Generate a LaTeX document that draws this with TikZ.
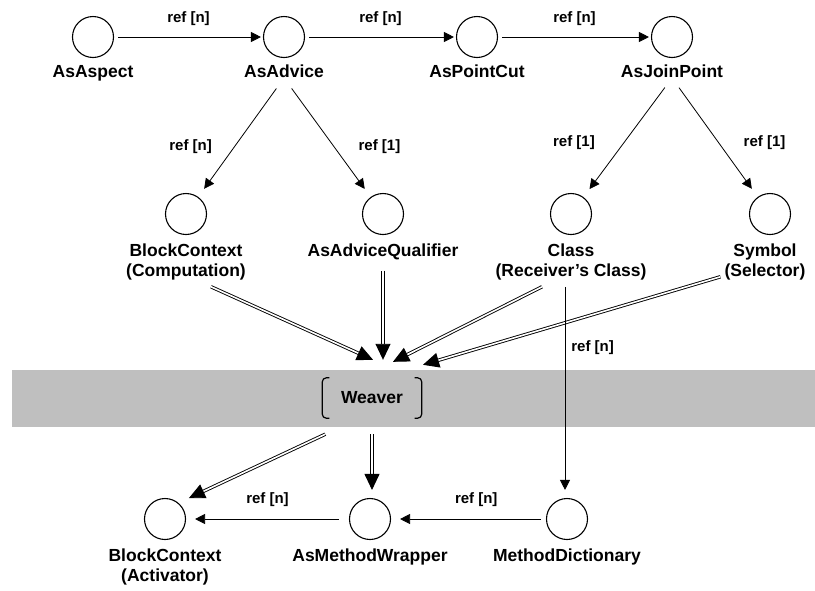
\documentclass[tikz,border=0pt]{standalone}
\usepackage{fontspec}
\setmainfont{Liberation Sans}
\usetikzlibrary{positioning, arrows.meta}

\begin{document}
\begin{tikzpicture}[
  x=1pt, y=-1pt,
  every node/.style={align=center, font=\fontsize{17.5}{20}\selectfont\bfseries},
  obj/.style={draw, circle, line width=1.1pt, minimum size=41pt, inner sep=0pt},
  objname/.style={inner sep=0pt},
  reflabel/.style={inner sep=0pt, font=\fontsize{15}{17}\selectfont\bfseries},
  refarrow/.style={-{Triangle[length=10pt,width=10pt]}, line width=0.8pt},
  weavearrow/.style={-{Triangle[length=16pt,width=15pt]}, double, double distance=1.6pt, line width=0.9pt},
  brackline/.style={line width=1.2pt, rounded corners=4pt}
]
\useasboundingbox (0,0) rectangle (815,590);

\node[fill=black!25, minimum width=803pt, minimum height=57pt, inner sep=0pt] (band) at (413.5,398.5) {};
\node[minimum width=99pt, minimum height=40pt, inner sep=0pt] (wv) at (372,398) {Weaver};
\draw[brackline] ([xshift=7pt]wv.north west) -- (wv.north west) -- (wv.south west) -- ([xshift=7pt]wv.south west);
\draw[brackline] ([xshift=-7pt]wv.north east) -- (wv.north east) -- (wv.south east) -- ([xshift=-7pt]wv.south east);

\node[obj] (asp) at (93,37) {};
\node[obj] (adv) at (284,37) {};
\node[obj] (pc) at (477,37) {};
\node[obj] (jp) at (672,37) {};
\node[obj] (bcc) at (186,214) {};
\node[obj] (aq) at (383,214) {};
\node[obj] (cls) at (571,214) {};
\node[obj] (sym) at (770,214) {};
\node[obj] (bca) at (165,519) {};
\node[obj] (mw) at (370,519) {};
\node[obj] (md) at (567,519) {};

\node[objname, below=7pt of asp] (aspL) {AsAspect};
\node[objname, below=7pt of adv] (advL) {AsAdvice};
\node[objname, below=7pt of pc] (pcL) {AsPointCut};
\node[objname, below=7pt of jp] (jpL) {AsJoinPoint};
\node[objname, below=9pt of bcc] (bccL) {BlockContext\\(Computation)};
\node[objname, below=9pt of aq] (aqL) {AsAdviceQualifier};
\node[objname, below=9pt of cls] (clsL) {Class\\(Receiver’s Class)};
\node[objname, below=9pt of sym, xshift=-5pt] (symL) {Symbol\\(Selector)};
\node[objname, below=9pt of bca] (bcaL) {BlockContext\\(Activator)};
\node[objname, below=9pt of mw] (mwL) {AsMethodWrapper};
\node[objname, below=9pt of md] (mdL) {MethodDictionary};

\draw[refarrow, shorten <=4pt, shorten >=2pt] (asp) -- node[reflabel, above=11pt] {ref [n]} (adv);
\draw[refarrow, shorten <=4pt, shorten >=2pt] (adv) -- node[reflabel, above=11pt] {ref [n]} (pc);
\draw[refarrow, shorten <=4pt, shorten >=2pt] (pc) -- node[reflabel, above=11pt] {ref [n]} (jp);

\draw[refarrow, shorten <=13pt, shorten >=10pt] (advL.base) -- node[reflabel, pos=0.58, left=22pt] {ref [n]} (bcc);
\draw[refarrow, shorten <=13pt, shorten >=10pt] (advL.base) -- node[reflabel, pos=0.58, right=24pt] {ref [1]} (aq);
\draw[refarrow, shorten <=12pt, shorten >=10pt] (jpL.base) -- node[reflabel, pos=0.54, left=29pt] {ref [1]} (cls);
\draw[refarrow, shorten <=12pt, shorten >=10pt] (jpL.base) -- node[reflabel, pos=0.54, right=25pt] {ref [1]} (sym);

\coordinate (wvtop) at ([yshift=18pt]wv.north);
\draw[weavearrow] ([xshift=25pt,yshift=-6pt]bccL.south) -- ([xshift=1pt,yshift=18pt]wv.north);
\draw[weavearrow] ([yshift=-10pt]aqL.south) -- (aqL.south |- wvtop);
\draw[weavearrow] ([xshift=-29pt,yshift=-6pt]clsL.south) -- ([xshift=21pt,yshift=16pt]wv.north);
\draw[weavearrow] ([xshift=-4pt,yshift=4pt]symL.south west) -- ([xshift=51pt,yshift=13pt]wv.north);

\coordinate (wvout) at ([yshift=-16pt]wv.south);
\draw[weavearrow] ([xshift=3pt,yshift=-16pt]wv.south west) -- ([xshift=9pt,yshift=6pt]bca.north east);
\draw[weavearrow] (wvout) -- ([yshift=8pt]wvout |- mw.north);

\coordinate (clsout) at ([xshift=-6pt,yshift=-6pt]clsL.south);
\draw[refarrow, shorten >=8pt] (clsout) -- node[reflabel, pos=0.29, right=6pt] {ref [n]} (clsout |- md.north);
\draw[refarrow, shorten <=5pt, shorten >=9pt] (md) -- node[reflabel, pos=0.45, above=12pt] {ref [n]} (mw);
\draw[refarrow, shorten <=10pt, shorten >=9pt] (mw) -- node[reflabel, above=12pt] {ref [n]} (bca);
\end{tikzpicture}
\end{document}
